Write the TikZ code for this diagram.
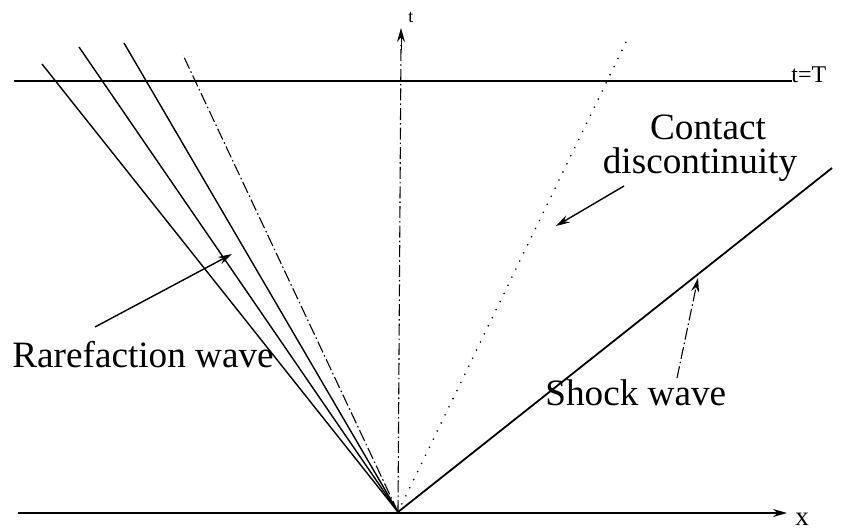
\documentclass[tikz,border=0pt]{standalone}
\usepackage{fontspec}
\setmainfont{Liberation Serif}
\usetikzlibrary{arrows.meta}
\begin{document}
\begin{tikzpicture}[x=0.5pt,y=-0.5pt,
  axisline/.style={line width=0.9pt},
  fanline/.style={line width=0.7pt},
  dashdotline/.style={line width=0.55pt,dash pattern=on 6pt off 1.5pt on 0.8pt off 1.5pt},
  dotline/.style={line width=0.9pt,line cap=round,dash pattern=on 0pt off 4.5pt},
  tip/.style={-{Stealth[length=7pt,width=4pt]}},
  biglbl/.style={inner sep=0pt,font=\fontsize{18.6}{20}\selectfont},
  smalllbl/.style={inner sep=0pt}]
\useasboundingbox (0,0) rectangle (841,530);
% key points
\coordinate (O) at (398,512);
\coordinate (xs) at (18,513);
\coordinate (xe) at (787,513);
\coordinate (tt) at (401,28);
\coordinate (hL) at (14,81);
\coordinate (hR) at (792,81);
\coordinate (r1) at (42,64);
\coordinate (r2) at (79,47);
\coordinate (r3) at (124,43);
\coordinate (r4) at (183,55);
\coordinate (cd) at (626,42);
\coordinate (sw) at (832,168);
% axes
\draw[axisline,tip] (xs) -- (xe);
\draw[dashdotline] (O) -- (401,45);
\draw[tip,line width=0.5pt] (401,50) -- (tt);
\draw[axisline] (hL) -- (hR);
% rarefaction fan
\draw[fanline] (O) -- (r1);
\draw[fanline] (O) -- (r2);
\draw[fanline] (O) -- (r3);
\draw[dashdotline] (O) -- (r4);
% contact discontinuity
\draw[dotline] (O) -- (cd);
% shock
\draw[axisline] (O) -- (sw);
% labels
\node[smalllbl,anchor=base west,font=\fontsize{9}{10}\selectfont] (tlab) at (408,22) {t};
\node[smalllbl,anchor=base west,font=\fontsize{13.5}{14}\selectfont] (xlab) at (795,525) {x};
\node[smalllbl,anchor=base west,font=\fontsize{12}{13}\selectfont] (tT) at (791,83) {t=T};
\node[biglbl,anchor=base west] (rare) at (12,367) {Rarefaction wave};
\node[biglbl,anchor=base west] (shock) at (545,405) {Shock wave};
\node[biglbl,anchor=base] (c1) at (708,139) {Contact};
\node[biglbl,anchor=base] (c2) at (700,173) {discontinuity};
% pointer arrows
\coordinate (ra) at (95,327);
\coordinate (rb) at (232,254);
\coordinate (ca) at (624,186);
\coordinate (cb) at (556,226);
\coordinate (sa) at (677,378);
\coordinate (sb) at (698,278);
\draw[tip,line width=0.7pt] (ra) -- (rb);
\draw[tip,line width=0.7pt] (ca) -- (cb);
\draw[tip,dashdotline] (sa) -- (sb);
\end{tikzpicture}
\end{document}
